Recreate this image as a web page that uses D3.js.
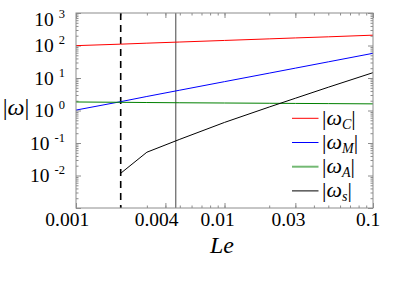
<!DOCTYPE html>
<html lang="en">
  <head>
    <meta charset="UTF-8" />
    <title>|ω| vs Le</title>
    <script src="https://d3js.org/d3.v7.min.js"></script>
    <style>
      body { margin: 0; background: #fff; }
      svg text { font-family: "Liberation Serif", "DejaVu Serif", serif; fill: #000; }
      .frame { fill: none; stroke: #8c8c8c; stroke-width: 1; }
      .tick line { stroke: #8c8c8c; }
      .domain { display: none; }
    </style>
  </head>
  <body>
    <svg width="399" height="300"></svg>
    <script>
      // Le samples and |omega| values
      const le = [0.001, 0.002, 0.003, 0.005, 0.01, 0.02, 0.03, 0.05, 0.1];
      const omegaC = [99, 110, 118, 128, 143, 160, 171, 185, 208];
      const omegaM = [1.03, 1.87, 2.7, 4.22, 7.72, 14.1, 20.1, 31.4, 57.5];
      const omegaA = [1.83, 1.79, 1.76, 1.73, 1.7, 1.67, 1.65, 1.63, 1.6];
      // |omega_s| only exists from Le = 0.002
      const leS = [0.002, 0.003, 0.005, 0.01, 0.02, 0.03, 0.05, 0.1];
      const omegaS = [0.0117, 0.052, 0.13, 0.43, 1.28, 2.38, 5.2, 14.6];

      const xTicks = [0.001, 0.004, 0.01, 0.03, 0.1];
      const xTickLabels = ["0.001", "0.004", "0.01", "0.03", "0.1"];
      const yExponents = [-3, -2, -1, 0, 1, 2, 3];
      const yLabeled = [-2, -1, 0, 1, 2, 3];

      const leDashed = 0.002;
      const leSolid = 0.0047;

      const series = [
        { sub: "C", x: le, y: omegaC, color: "#ff0000" },
        { sub: "M", x: le, y: omegaM, color: "#0000ff" },
        { sub: "A", x: le, y: omegaA, color: "#008000" },
        { sub: "s", x: leS, y: omegaS, color: "#000000" },
      ];

      const pLeft = 76, pRight = 373, pTop = 13, pBottom = 208;

      const x = d3.scaleLog().domain([0.001, 0.1]).range([pLeft, pRight]);
      const y = d3.scaleLog().domain([1e-3, 1e3]).range([pBottom, pTop]);

      const svg = d3.select("svg");

      // minor tick positions
      const xMinor = [];
      [0.001, 0.01].forEach((d) => {
        for (let k = 1; k < 10; k++) xMinor.push(d * k);
      });
      xMinor.push(0.1);
      const yMinor = [];
      yExponents.slice(0, -1).forEach((e) => {
        for (let k = 2; k < 10; k++) yMinor.push(k * Math.pow(10, e));
      });
      const yMajor = yExponents.map((e) => Math.pow(10, e));

      // ticks pointing inward on all four sides
      const tickAxis = (axis, pos, values, size) =>
        svg.append("g")
          .attr("transform", pos)
          .call(axis.tickValues(values).tickSize(size).tickFormat(""));

      tickAxis(d3.axisBottom(x), `translate(0,${pBottom})`, xMinor, -2.5);
      tickAxis(d3.axisBottom(x), `translate(0,${pBottom})`, xTicks, -5);
      tickAxis(d3.axisTop(x), `translate(0,${pTop})`, xMinor, -2.5);
      tickAxis(d3.axisTop(x), `translate(0,${pTop})`, xTicks, -5);
      tickAxis(d3.axisLeft(y), `translate(${pLeft},0)`, yMinor, -2.5);
      tickAxis(d3.axisLeft(y), `translate(${pLeft},0)`, yMajor, -5);
      tickAxis(d3.axisRight(y), `translate(${pRight},0)`, yMinor, -2.5);
      tickAxis(d3.axisRight(y), `translate(${pRight},0)`, yMajor, -5);

      // x tick labels
      svg.append("g")
        .selectAll("text")
        .data(xTicks)
        .join("text")
        .attr("x", (d) => x(d))
        .attr("y", 226)
        .attr("font-size", 19.5)
        .attr("text-anchor", "middle")
        .text((d, i) => xTickLabels[i])
        .attr("dx", function () {
          return -0.2 * this.getComputedTextLength();
        });

      // y tick labels 10^n
      const yl = svg.append("g")
        .selectAll("text")
        .data(yLabeled)
        .join("text")
        .attr("x", 65)
        .attr("y", (e) => Math.max(y(Math.pow(10, e)) + 6.5, 26))
        .attr("text-anchor", "end")
        .attr("font-size", 19.5);
      yl.append("tspan").text("10");
      yl.append("tspan")
        .attr("dx", 5)
        .attr("dy", -8)
        .attr("font-size", 12.5)
        .text((e) => (e < 0 ? "-" + -e : "" + e));

      // axis titles
      const yt = svg.append("text")
        .attr("x", 16)
        .attr("y", 115)
        .attr("text-anchor", "middle")
        .attr("font-size", 24);
      yt.append("tspan").text("|");
      yt.append("tspan").attr("font-style", "italic").text("ω");
      yt.append("tspan").text("|");

      svg.append("text")
        .attr("x", 222)
        .attr("y", 253)
        .attr("text-anchor", "middle")
        .attr("font-size", 24)
        .attr("font-style", "italic")
        .text("Le");

      // reference lines
      svg.append("line")
        .attr("x1", x(leDashed)).attr("x2", x(leDashed))
        .attr("y1", pTop).attr("y2", pBottom)
        .attr("stroke", "#000")
        .attr("stroke-width", 1.6)
        .attr("stroke-dasharray", "7,5");
      svg.append("line")
        .attr("x1", x(leSolid)).attr("x2", x(leSolid))
        .attr("y1", pTop).attr("y2", pBottom)
        .attr("stroke", "#444")
        .attr("stroke-width", 1);

      // data lines
      const line = d3.line().x((d) => x(d[0])).y((d) => y(d[1]));
      series.forEach((s) => {
        svg.append("path")
          .attr("d", line(s.x.map((v, i) => [v, s.y[i]])))
          .attr("fill", "none")
          .attr("stroke", s.color)
          .attr("stroke-width", 1);
      });

      svg.append("rect")
        .attr("class", "frame")
        .attr("x", pLeft).attr("y", pTop)
        .attr("width", pRight - pLeft).attr("height", pBottom - pTop);

      // legend
      const lg = svg.append("g")
        .selectAll("g")
        .data(series)
        .join("g")
        .attr("transform", (d, i) => `translate(292,${118.3 + i * 24.2})`);
      lg.append("line")
        .attr("x1", 0).attr("x2", 26.5)
        .attr("stroke", (d) => d.color)
        .attr("stroke-width", (d) => (d.sub === "A" ? 2 : 1))
        .attr("stroke-opacity", (d) => (d.sub === "A" ? 0.55 : 1));
      const lt = lg.append("text")
        .attr("x", 30)
        .attr("y", 6.5)
        .attr("font-size", 22);
      lt.append("tspan").text("|");
      lt.append("tspan").attr("font-style", "italic").text("ω");
      lt.append("tspan")
        .attr("font-style", "italic")
        .attr("font-size", 14)
        .attr("dy", 4)
        .text((d) => d.sub);
      lt.append("tspan").attr("dy", -4).text("|");
    </script>
  </body>
</html>
